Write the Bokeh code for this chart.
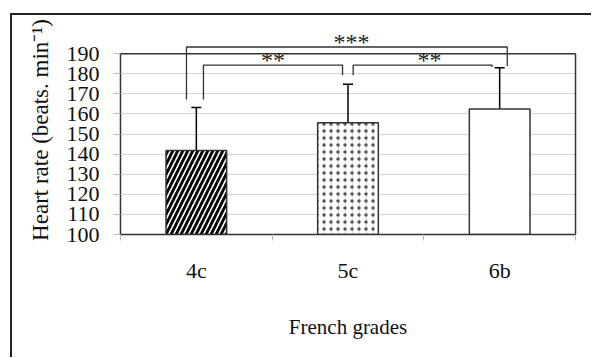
from bokeh.plotting import figure
from bokeh.models import Range1d, FixedTicker, LinearAxis, Whisker, ColumnDataSource
from bokeh.core.properties import value
from bokeh.embed import file_html
from bokeh.resources import INLINE

# ---- data ----
categories = ["4c", "5c", "6b"]
heart_rate = [141.8, 155.6, 162.5]
sd_upper = [163.2, 174.8, 183.0]
sd_lower = [119.6, 136.3, 142.2]
y_ticks = [100, 110, 120, 130, 140, 150, 160, 170, 180, 190]
# significance: (from index, to index, label)
sig_pairs = [(0, 1, "**"), (1, 2, "**"), (0, 2, "***")]

FONT = "Liberation Serif"
DARK = "#333333"
GRID = "#d4d4d4"

xs = [i + 0.5 for i in range(len(categories))]

p = figure(width=581, height=344, output_backend="svg", toolbar_location=None,
           x_range=Range1d(0, len(categories)), y_range=Range1d(y_ticks[0], 204))
p.min_border = 0
p.min_border_left = 108
p.min_border_right = 18
p.min_border_top = 10
p.min_border_bottom = 125
p.outline_line_color = None
p.margin = (13, 0, 0, 10)
p.styles = {"border-left": "2px solid #222", "border-top": "2px solid #222"}

# axes
xa = p.xaxis[0]
xa.ticker = FixedTicker(ticks=xs, minor_ticks=list(range(len(categories) + 1)))
xa.major_label_overrides = {x: c for x, c in zip(xs, categories)}
xa.major_tick_line_color = None
xa.major_tick_out = 0
xa.minor_tick_out = 6
xa.minor_tick_in = 0
xa.minor_tick_line_color = "#bbbbbb"
xa.axis_line_color = DARK
xa.axis_line_width = 1.5
xa.major_label_standoff = 17
xa.major_label_text_font = FONT
xa.major_label_text_font_size = "22px"
xa.major_label_text_color = "#111111"
xa.axis_label = "French grades"
xa.axis_label_text_font = FONT
xa.axis_label_text_font_size = "21px"
xa.axis_label_text_font_style = "normal"
xa.axis_label_text_color = "#111111"
xa.axis_label_standoff = 29

ya = p.yaxis[0]
ya.ticker = FixedTicker(ticks=y_ticks)
ya.bounds = (y_ticks[0], y_ticks[-1])
ya.axis_line_color = DARK
ya.axis_line_width = 1.5
ya.major_tick_out = 7
ya.major_tick_in = 0
ya.major_tick_line_color = "#bbbbbb"
ya.minor_tick_line_color = None
ya.major_label_standoff = 14
ya.major_label_text_font = FONT
ya.major_label_text_font_size = "22px"
ya.major_label_text_color = "#111111"
ya.axis_label = "Heart rate (beats. min\u207b\u00b9)"
ya.axis_label_text_font = FONT
ya.axis_label_text_font_size = "23px"
ya.axis_label_text_font_style = "normal"
ya.axis_label_text_color = "#111111"
ya.axis_label_standoff = 11

ra = LinearAxis(bounds=(y_ticks[0], y_ticks[-1]), ticker=FixedTicker(ticks=[]),
                axis_line_color=DARK, axis_line_width=1.5, major_tick_line_color=None,
                minor_tick_line_color=None, major_label_text_font_size="0px")
p.add_layout(ra, "right")

p.xgrid.grid_line_color = None
p.ygrid.ticker = FixedTicker(ticks=y_ticks)
p.ygrid.grid_line_color = GRID
p.ygrid.grid_line_width = 1.2

# top edge of plot box
p.segment(x0=[0], x1=[len(categories)], y0=[y_ticks[-1]], y1=[y_ticks[-1]],
          line_color=DARK, line_width=1.5)

src = ColumnDataSource(dict(x=xs, top=heart_rate, upper=sd_upper, lower=sd_lower))
W = 0.4
bottom = y_ticks[0]
# 4c hatched
p.vbar(x=[xs[0]], top=[heart_rate[0]], bottom=bottom, width=W, fill_color="white",
       line_color=None, hatch_pattern="/", hatch_color="black", hatch_scale=10,
       hatch_weight=2.8)
# 5c dotted
p.vbar(x=[xs[1]], top=[heart_rate[1]], bottom=bottom, width=W, fill_color="white",
       line_color=None, hatch_pattern="|", hatch_color="#d8d8d8", hatch_scale=7,
       hatch_weight=0.8)
p.vbar(x=[xs[1]], top=[heart_rate[1]], bottom=bottom, width=W, fill_color=None,
       line_color=None, hatch_pattern=".", hatch_color="#555555", hatch_scale=7,
       hatch_weight=0.8)
# 6b plain
p.vbar(x=[xs[2]], top=[heart_rate[2]], bottom=bottom, width=W, fill_color="white",
       line_color=None)
# outlines
p.vbar(x="x", top="top", bottom=bottom, width=W, fill_color=None,
       line_color=DARK, line_width=1.5, source=src)

wh = Whisker(base="x", upper="upper", lower="lower", source=src,
             line_color="black", line_width=1.5)
wh.upper_head.size = 10
wh.lower_head.size = 10
wh.upper_head.line_width = 1.5
wh.lower_head.line_width = 1.5
p.add_layout(wh)

# significance brackets
text_shift = [0.0, 0.046, 0.03]
tx, ty, tt = [], [], []
for k, (a, b, lab) in enumerate(sig_pairs):
    if b - a == 1:
        h = 184.3
        la = xs[a] + 0.047 if a == 0 else xs[a] + 0.034
        lb = xs[b] - 0.036 if b == 1 else xs[b] - 0.05
        ya_ = 167.2 if a == 0 else 179.2
        yb_ = 179.2 if b == 1 else 183.3
    else:
        h = 193.3
        la = xs[a] - 0.065
        lb = xs[b] + 0.05
        ya_ = 167.2
        yb_ = 183.8
    p.line(x=[la, la, lb, lb], y=[ya_, h, h, yb_], line_color=DARK, line_width=1.3)
    tx.append((la + lb) / 2 + text_shift[k])
    ty.append(h + 2.6)
    tt.append(lab)

p.text(x=tx, y=ty, text=tt, text_font=value(FONT), text_font_size="24px",
       text_align="center", text_baseline="alphabetic", text_color="#222222")

open("out.html", "w").write(file_html(p, INLINE))
